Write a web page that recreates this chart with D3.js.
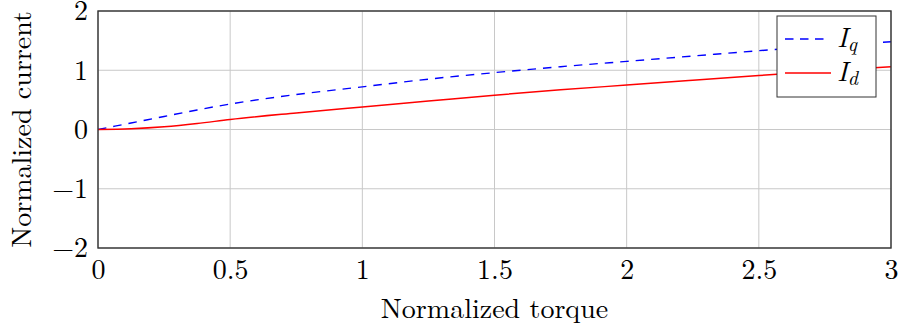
<!DOCTYPE html>
<html><head><meta charset="utf-8">
<script src="https://cdn.jsdelivr.net/npm/d3@7"></script>
</head><body style="margin:0;background:#fff"><svg id="c" width="900" height="333"></svg>
<script>
const torque = [0, 0.125, 0.25, 0.375, 0.5, 0.75, 1, 1.25, 1.5, 1.75, 2, 2.25, 2.5, 2.75, 3];
const iq = [0, 0.11, 0.22, 0.33, 0.43, 0.59, 0.72, 0.85, 0.96, 1.06, 1.15, 1.24, 1.33, 1.41, 1.48];
const id = [0, 0.012, 0.045, 0.1, 0.17, 0.28, 0.38, 0.48, 0.58, 0.67, 0.75, 0.83, 0.91, 0.99, 1.06];
const xTicks = [0, 0.5, 1, 1.5, 2, 2.5, 3];
const xTickLabels = ["0", "0.5", "1", "1.5", "2", "2.5", "3"];
const yTicks = [-2, -1, 0, 1, 2];
const yTickLabels = ["\u22122", "\u22121", "0", "1", "2"];

const FONT = "Latin Modern Roman, Liberation Serif, serif";
const FS = 28;
const svg = d3.select("#c");
const L = 98, R = 891, T = 11, B = 248;
const x = d3.scaleLinear().domain([0, 3]).range([L, R]);
const y = d3.scaleLinear().domain([-2, 2]).range([B, T]);

// grid
svg.append("g").selectAll("line").data(xTicks).join("line")
  .attr("x1", d => x(d)).attr("x2", d => x(d)).attr("y1", T).attr("y2", B)
  .attr("stroke", "#c8c8c8").attr("stroke-width", 1);
svg.append("g").selectAll("line").data(yTicks).join("line")
  .attr("y1", d => y(d)).attr("y2", d => y(d)).attr("x1", L).attr("x2", R)
  .attr("stroke", "#c8c8c8").attr("stroke-width", 1);

// axes via d3
const xAxis = d3.axisBottom(x).tickValues(xTicks).tickFormat((d, i) => xTickLabels[i]).tickSize(0).tickPadding(11);
const gx = svg.append("g").attr("transform", `translate(0,${B})`).call(xAxis);
gx.attr("font-family", FONT);
gx.select(".domain").remove();
gx.selectAll("text").attr("font-size", FS).attr("font-family", FONT).attr("dy", "0.71em").attr("fill", "#000");

const yAxis = d3.axisLeft(y).tickValues(yTicks).tickFormat((d, i) => yTickLabels[i]).tickSize(0).tickPadding(10);
const gy = svg.append("g").attr("transform", `translate(${L},0)`).call(yAxis);
gy.attr("font-family", FONT);
gy.select(".domain").remove();
gy.selectAll("text").attr("font-size", FS).attr("font-family", FONT).attr("dy", "0.32em").attr("fill", "#000");

// lines
const line = vals => d3.line().curve(d3.curveMonotoneX).x((d, i) => x(torque[i])).y(d => y(d))(vals);
svg.append("path").attr("d", line(iq)).attr("fill", "none").attr("stroke", "#0000ff").attr("stroke-width", 1.4).attr("stroke-dasharray", "8.5,7");
svg.append("path").attr("d", line(id)).attr("fill", "none").attr("stroke", "#ff0000").attr("stroke-width", 1.5);

// frame
svg.append("rect").attr("x", L).attr("y", T).attr("width", R - L).attr("height", B - T)
  .attr("fill", "none").attr("stroke", "#333").attr("stroke-width", 1.4);

// axis labels
svg.append("text").attr("x", (L + R) / 2).attr("y", 318).attr("text-anchor", "middle").attr("font-size", FS).attr("font-family", FONT).text("Normalized torque");
svg.append("text").attr("transform", `translate(31,${(T + B) / 2}) rotate(-90)`).attr("text-anchor", "middle").attr("font-size", FS).attr("font-family", FONT).text("Normalized current");

// legend
const lg = svg.append("g");
lg.append("rect").attr("x", 777).attr("y", 16).attr("width", 99).attr("height", 81).attr("fill", "#fff").attr("stroke", "#333").attr("stroke-width", 1);
const items = [{n: "q", c: "#0000ff", dash: "8.5,6.5", yy: 39, x2: 827}, {n: "d", c: "#ff0000", dash: null, yy: 73, x2: 831}];
items.forEach(it => {
  lg.append("line").attr("x1", 785).attr("x2", it.x2).attr("y1", it.yy).attr("y2", it.yy)
    .attr("stroke", it.c).attr("stroke-width", 1.4).attr("stroke-dasharray", it.dash);
  const t = lg.append("text").attr("x", 837).attr("y", it.yy + 8).attr("font-size", FS).attr("font-family", FONT);
  t.append("tspan").attr("font-style", "italic").text("I");
  t.append("tspan").attr("font-style", "italic").attr("font-size", 20).attr("dy", 4).text(it.n);
});
</script></body></html>
